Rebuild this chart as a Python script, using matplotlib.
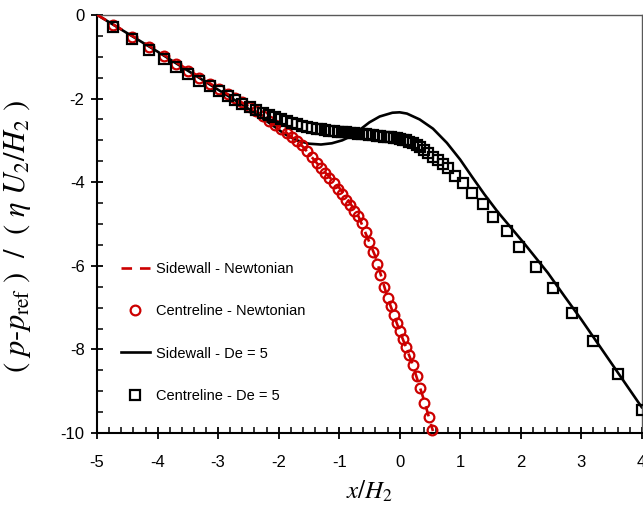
import numpy as np
import matplotlib.pyplot as plt
from matplotlib.ticker import MultipleLocator

plt.rcParams['font.family'] = ['Liberation Sans', 'DejaVu Sans']
plt.rcParams['mathtext.fontset'] = 'stix'
plt.rcParams['axes.unicode_minus'] = False

# centreline, Newtonian (red circles)
x_cn = [-4.73, -4.43, -4.15, -3.90, -3.69, -3.50, -3.31, -3.13, -2.98, -2.83,
        -2.72, -2.60, -2.48, -2.37, -2.26, -2.16, -2.06, -1.96, -1.87, -1.78,
        -1.69, -1.61, -1.53, -1.45, -1.37, -1.30, -1.23, -1.16, -1.09, -1.02,
        -0.95, -0.88, -0.82, -0.75, -0.69, -0.62, -0.56, -0.50, -0.44, -0.38,
        -0.32, -0.26, -0.20, -0.15, -0.10, -0.05, 0.00, 0.05, 0.10, 0.16,
        0.22, 0.28, 0.34, 0.41, 0.48, 0.54]
y_cn = [-0.25, -0.52, -0.78, -0.99, -1.18, -1.34, -1.50, -1.66, -1.78, -1.90,
        -1.99, -2.09, -2.20, -2.31, -2.42, -2.53, -2.63, -2.73, -2.82, -2.91,
        -3.01, -3.12, -3.25, -3.39, -3.53, -3.65, -3.77, -3.90, -4.03, -4.16,
        -4.29, -4.42, -4.55, -4.68, -4.82, -4.98, -5.18, -5.42, -5.68, -5.95,
        -6.22, -6.50, -6.76, -6.97, -7.17, -7.37, -7.56, -7.75, -7.93, -8.14,
        -8.38, -8.64, -8.93, -9.28, -9.62, -9.92]

# sidewall, Newtonian (red dashed)
x_sn = [-5.0, -4.0, -3.0, -2.6, -2.2, -1.9, -1.6, -1.3, -1.0, -0.7, -0.4,
        -0.2, 0.0, 0.2, 0.4, 0.55]
y_sn = [0.0, -0.86, -1.76, -2.10, -2.47, -2.78, -3.15, -3.66, -4.13, -4.75,
        -5.78, -6.76, -7.56, -8.30, -9.20, -9.95]

# sidewall, De = 5 (black line)
x_sd = [-5.0, -4.0, -3.0, -2.6, -2.4, -2.12, -1.9, -1.7, -1.5, -1.3, -1.12,
        -0.95, -0.83, -0.67, -0.5, -0.33, -0.12, 0.0, 0.12, 0.33, 0.55, 0.78,
        1.0, 1.2, 1.4, 1.62, 2.05, 2.45, 2.72, 3.0, 3.5, 4.0]
y_sd = [0.0, -0.88, -1.79, -2.15, -2.34, -2.62, -2.85, -3.00, -3.08, -3.10,
        -3.07, -3.00, -2.92, -2.76, -2.57, -2.43, -2.34, -2.33, -2.36, -2.50,
        -2.72, -3.06, -3.46, -3.88, -4.29, -4.71, -5.45, -6.17, -6.72, -7.28,
        -8.33, -9.38]

# centreline, De = 5 (black squares)
x_cd = [-4.73, -4.43, -4.15, -3.90, -3.69, -3.50, -3.31, -3.13, -2.98, -2.83,
        -2.72, -2.60, -2.48, -2.37, -2.26, -2.16, -2.06, -1.96, -1.87, -1.78,
        -1.69, -1.61, -1.53, -1.45, -1.37, -1.30, -1.23, -1.16, -1.09, -1.02,
        -0.95, -0.88, -0.82, -0.75, -0.69, -0.62, -0.56, -0.50, -0.44, -0.38,
        -0.32, -0.26, -0.20, -0.15, -0.10, -0.05, 0.00, 0.05, 0.10, 0.16,
        0.22, 0.28, 0.34, 0.41, 0.47, 0.55, 0.63, 0.72, 0.80, 0.92, 1.05,
        1.20, 1.37, 1.55, 1.77, 1.98, 2.25, 2.53, 2.85, 3.20, 3.60, 4.00]
y_cd = [-0.29, -0.57, -0.84, -1.05, -1.24, -1.41, -1.58, -1.70, -1.82, -1.94,
        -2.03, -2.12, -2.21, -2.28, -2.34, -2.40, -2.45, -2.50, -2.54, -2.58,
        -2.62, -2.65, -2.68, -2.70, -2.72, -2.74, -2.76, -2.77, -2.78, -2.79,
        -2.80, -2.81, -2.82, -2.83, -2.84, -2.85, -2.86, -2.87, -2.88, -2.89,
        -2.90, -2.91, -2.92, -2.93, -2.94, -2.95, -2.96, -2.98, -3.00, -3.03,
        -3.07, -3.11, -3.17, -3.24, -3.31, -3.40, -3.47, -3.56, -3.67, -3.85,
        -4.02, -4.26, -4.52, -4.83, -5.17, -5.55, -6.03, -6.53, -7.13, -7.80,
        -8.59, -9.45]

fig = plt.figure(figsize=(6.43, 5.12), dpi=100)
ax = fig.add_axes([0.151, 0.154, 0.847, 0.817])

ax.plot(x_sd, y_sd, color='black', lw=1.9, zorder=2, label='Sidewall - De = 5')
ax.plot(x_sn, y_sn, color='#cc0000', lw=1.9, ls=(0, (4, 3)), zorder=3,
        label='Sidewall - Newtonian')
ax.plot(x_cn, y_cn, ls='none', marker='o', ms=7, mfc='none', mec='#cc0000',
        mew=1.6, zorder=4, clip_on=False, label='Centreline - Newtonian')
ax.plot(x_cd, y_cd, ls='none', marker='s', ms=7, mfc='none', mec='black',
        mew=1.6, zorder=5, clip_on=False, label='Centreline - De = 5')

ax.set_xlim(-5, 4)
ax.set_ylim(-10, 0)
ax.xaxis.set_major_locator(MultipleLocator(1))
ax.xaxis.set_minor_locator(MultipleLocator(0.2))
ax.yaxis.set_major_locator(MultipleLocator(2))
ax.yaxis.set_minor_locator(MultipleLocator(0.5))
ax.tick_params(which='major', direction='inout', length=8, width=1.3,
               labelsize=12, top=False, right=False)
ax.tick_params(axis='x', which='major', pad=12)
ax.tick_params(axis='y', which='major', pad=5)
ax.tick_params(which='minor', direction='in', length=4, width=1.1,
               top=False, right=False)

for side in ['left', 'bottom']:
    ax.spines[side].set_linewidth(1.5)
for side in ['top', 'right']:
    ax.spines[side].set_linewidth(1.0)
    ax.spines[side].set_color('0.35')

ax.set_xlabel(r'$x/H_2$', fontsize=18, labelpad=6)
ax.set_ylabel(r'$(\ p$-$p_{\rm ref}\ )\ \ /\ \ (\ \eta\ U_2/H_2\ )$',
              fontsize=22, family='STIXGeneral')
ax.yaxis.set_label_coords(-0.118, 0.47)

h, l = ax.get_legend_handles_labels()
order = [1, 2, 0, 3]
ax.legend([h[i] for i in order], [l[i] for i in order], loc='upper left',
          bbox_to_anchor=(0.043, 0.41), frameon=False, fontsize=10.5,
          handlelength=2.0, handletextpad=0.45, labelspacing=1.95,
          borderpad=0, borderaxespad=0)

fig.savefig('out.png', dpi=100)
